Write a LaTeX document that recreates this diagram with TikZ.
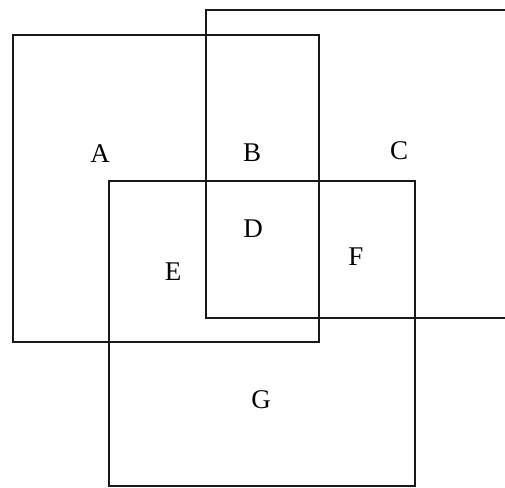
\documentclass[tikz,border=0pt]{standalone}
\usepackage{fontspec}
\setmainfont{Liberation Serif}
\begin{document}
\begin{tikzpicture}[x=1pt,y=-1pt,
  box/.style={draw=black!90,line width=1.3pt},
  lbl/.style={font=\fontsize{27}{27}\selectfont,inner sep=0pt,anchor=center}]
\fill[white] (0,0) rectangle (505,487);
\useasboundingbox (0,0) rectangle (505,487);
\clip (0,0) rectangle (505,487);
\draw[box] (13,35) rectangle (319,342);
\draw[box] (206,10) rectangle (530,318);
\draw[box] (109,181) rectangle (415,486);
\node[lbl] (A) at (100,154) {A};
\node[lbl] (B) at (252,153) {B};
\node[lbl] (C) at (399,151) {C};
\node[lbl] (D) at (253,229) {D};
\node[lbl] (E) at (173,272) {E};
\node[lbl] (F) at (356,257) {F};
\node[lbl] (G) at (261,400) {G};
\end{tikzpicture}
\end{document}
